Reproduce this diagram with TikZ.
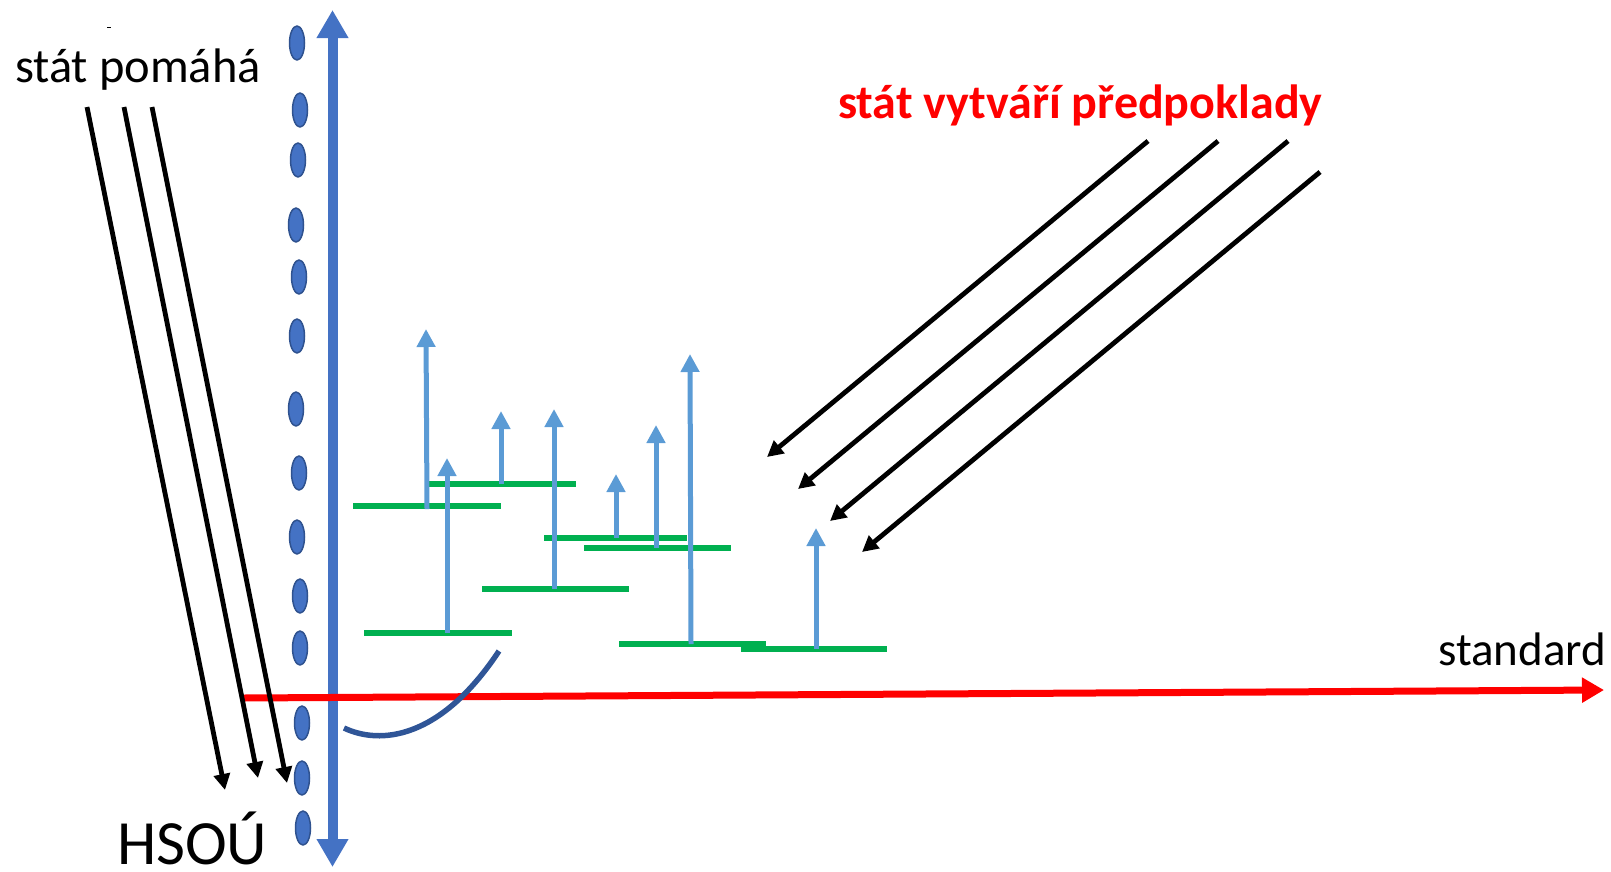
\documentclass[tikz,border=0pt]{standalone}
\usepackage{fontspec}
\setmainfont{Carlito}
\usetikzlibrary{arrows.meta}

\definecolor{modra}{HTML}{4472C4}
\definecolor{modraTm}{HTML}{2F528F}
\definecolor{oblouk}{HTML}{2F5597}
\definecolor{svetla}{HTML}{5B9BD5}
\definecolor{zelena}{HTML}{00B050}

\begin{document}
\begin{tikzpicture}[
  x=1pt, y=-1pt,
  bod/.style={fill=modra, draw=modraTm, line width=1.5pt},
  uroven/.style={zelena, line width=6pt},
  rust/.style={svetla, line width=5pt, -{Triangle[length=18pt, width=18pt]}},
  cerna/.style={black, line width=4.8pt, -{Triangle[length=16pt, width=16pt]}},
  popis/.style={inner sep=0pt, outer sep=0pt}
]
  \useasboundingbox (0,0) rectangle (1611,871);

  % ==========================================
  % 1. OSY
  % ==========================================

  % svisla osa (obousmerna)
  \draw[modra, line width=10pt, {Triangle[length=28pt, width=30pt]}-{Triangle[length=28pt, width=30pt]}]
    (332.5,867) -- (332.5,10);

  % tecky vlevo od osy
  \fill[bod] (297,43) ellipse (7.5 and 17);
  \fill[bod] (300,110) ellipse (7.5 and 17);
  \fill[bod] (298,160) ellipse (7.5 and 17);
  \fill[bod] (296,225) ellipse (7.5 and 17);
  \fill[bod] (299,277) ellipse (7.5 and 17);
  \fill[bod] (297,336) ellipse (7.5 and 17);
  \fill[bod] (296,409) ellipse (7.5 and 17);
  \fill[bod] (299,473) ellipse (7.5 and 17);
  \fill[bod] (297,537) ellipse (7.5 and 17);
  \fill[bod] (300,596) ellipse (7.5 and 17);
  \fill[bod] (300,648) ellipse (7.5 and 17);
  \fill[bod] (302,723) ellipse (7.5 and 17);
  \fill[bod] (302,778) ellipse (7.5 and 17);
  \fill[bod] (303,828) ellipse (7.5 and 17);

  % vodorovna osa - standard (cervena)
  \draw[red, line width=7pt, -{Triangle[length=22pt, width=24pt]}]
    (243,698) -- (1604,690);
  \node[popis, anchor=base east, font=\fontsize{47}{56}\selectfont] (standard) at (1606,665) {standard};

  % ==========================================
  % 2. UROVNE (zelene) A RUST (modre sipky)
  % ==========================================
  \draw[uroven] (353,506) -- (501,506);
  \draw[uroven] (429,484) -- (576,484);
  \draw[uroven] (364,633) -- (512,633);
  \draw[uroven] (482,589) -- (629,589);
  \draw[uroven] (544,538) -- (687,538);
  \draw[uroven] (584,548) -- (731,548);
  \draw[uroven] (619,644) -- (766,644);
  \draw[uroven] (741,649) -- (887,649);

  \draw[rust] (427,509) -- (426,329);
  \draw[rust] (447,633) -- (447,458);
  \draw[rust] (501,484) -- (501,411);
  \draw[rust] (554,589) -- (554,409);
  \draw[rust] (616,538) -- (616,474);
  \draw[rust] (656,548) -- (656,425);
  \draw[rust] (691,644) -- (690,354);
  \draw[rust] (816,649) -- (816,528);

  % ==========================================
  % 3. STAT POMAHA (vlevo)
  % ==========================================
  \draw[black, line width=1pt] (107,27.5) -- (111,27.5);
  \node[popis, anchor=base west, font=\fontsize{48.5}{58}\selectfont] (pomaha) at (15,82) {stát pomáhá};

  \draw[cerna] (87,107) -- (225,790);
  \draw[cerna] (124,107) -- (258,778);
  \draw[cerna] (152,107) -- (287,783);

  \node[popis, anchor=base west, font=\fontsize{63}{75}\selectfont] (hsou) at (117,864) {HSOÚ};

  % oblouk pod osou
  \draw[oblouk, line width=5.5pt]
    (499,651) .. controls (440,740) and (380,745) .. (344,728);

  % ==========================================
  % 4. STAT VYTVARI PREDPOKLADY (vpravo)
  % ==========================================
  \node[popis, anchor=base west, text=red, font=\fontsize{48}{58}\selectfont\bfseries] (predpoklady) at (838,118) {stát vytváří předpoklady};

  \draw[cerna] (1148,141) -- (767,457);
  \draw[cerna] (1218,141) -- (798,489);
  \draw[cerna] (1288,141) -- (830,521);
  \draw[cerna] (1320,172) -- (862,552);

\end{tikzpicture}
\end{document}
